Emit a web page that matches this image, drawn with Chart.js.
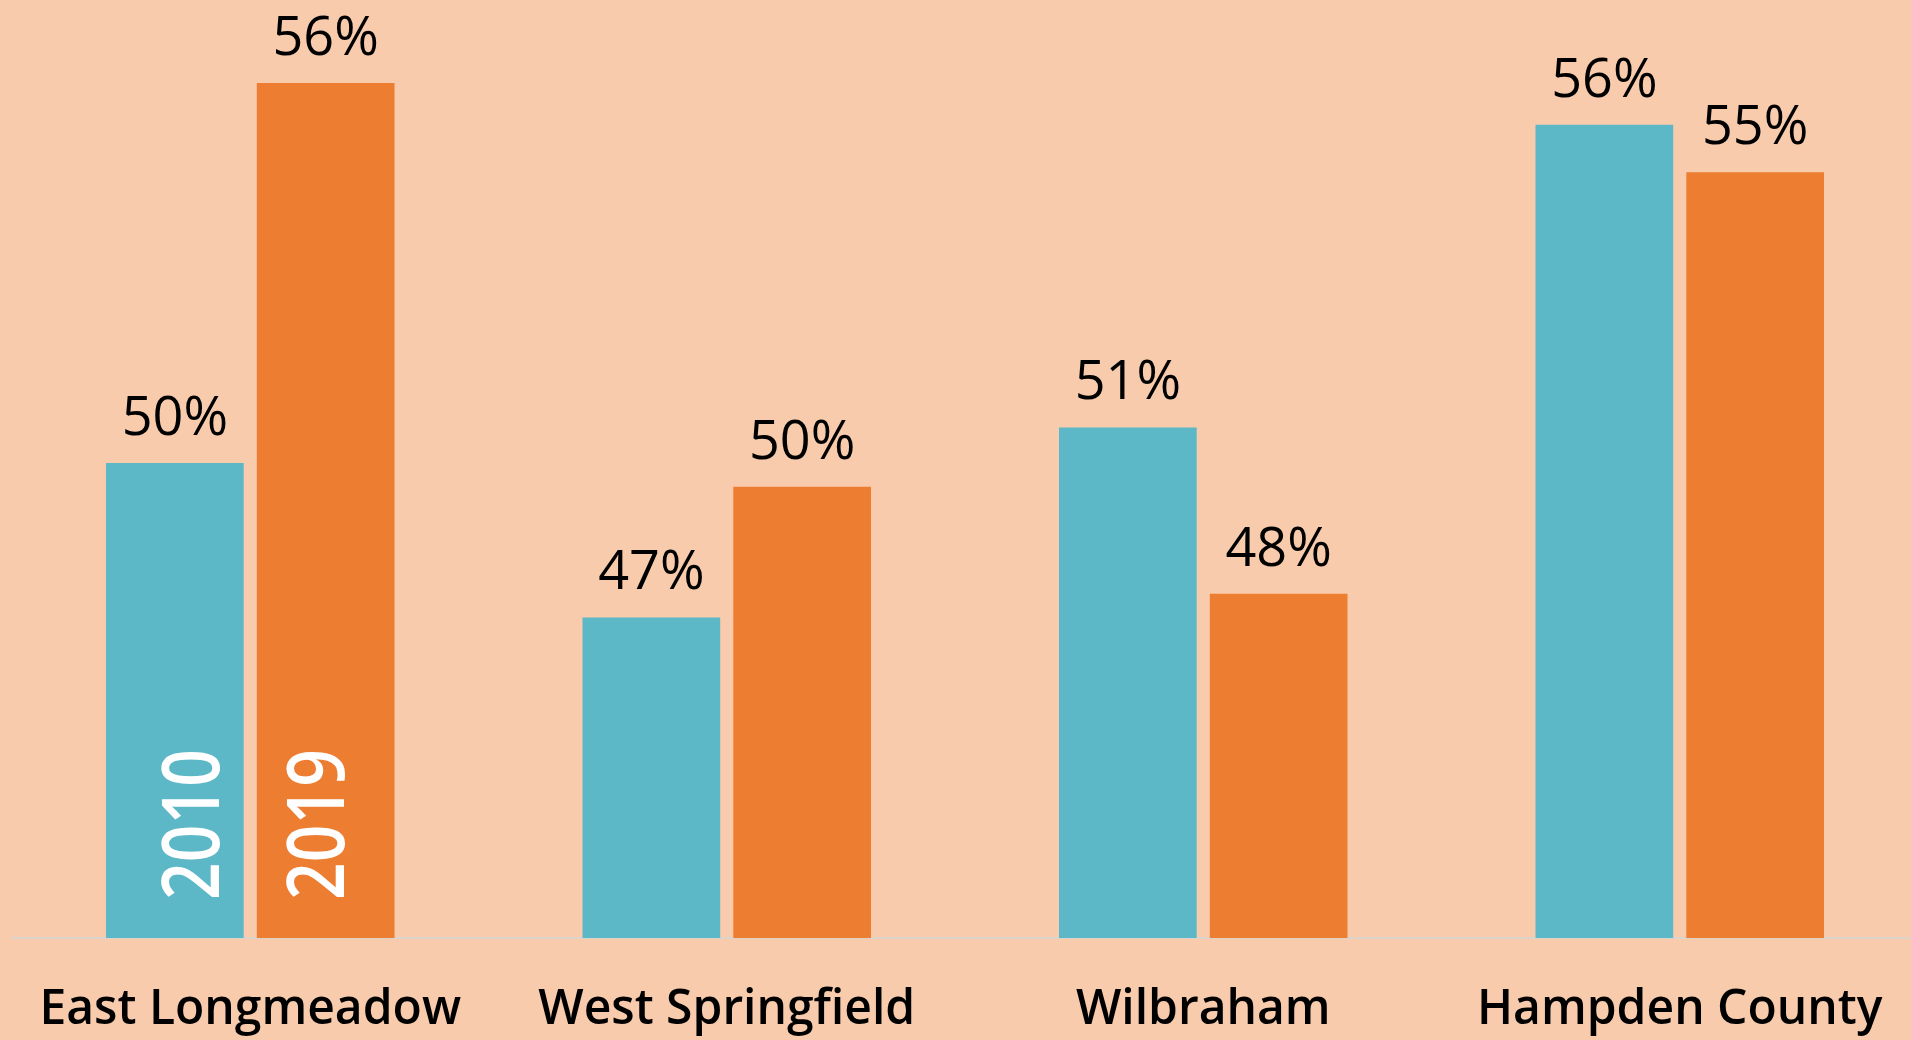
<!DOCTYPE html>
<html>
<head>
<meta charset="utf-8">
<script src="https://cdn.jsdelivr.net/npm/chart.js@4.4.0/dist/chart.umd.min.js"></script>
<style>
    html, body { margin: 0; padding: 0; background: #F8CBAD; overflow: hidden; }
    #wrap { width: 1911px; height: 1040px; overflow: hidden; }
</style>
</head>
<body>
<div id="wrap"><canvas id="chart" width="1918" height="1040"></canvas></div>
<script>
// values (labels show them rounded)
const categories = ['East Longmeadow', 'West Springfield', 'Wilbraham', 'Hampden County'];
const seriesNames = ['2010', '2019'];
const values2010 = [50.0, 47.4, 50.6, 55.7];
const values2019 = [56.4, 49.6, 47.8, 54.9];

const colors = ['#5CB7C6', '#ED7D31'];

// percent labels on top of every bar
const valueLabels = {
    id: 'valueLabels',
    afterDatasetsDraw(chart) {
        const ctx = chart.ctx;
        ctx.save();
        ctx.font = '500 54px "Open Sans"';
        ctx.fillStyle = '#000000';
        ctx.textAlign = 'center';
        ctx.textBaseline = 'alphabetic';
        chart.data.datasets.forEach((ds, i) => {
            chart.getDatasetMeta(i).data.forEach((bar, j) => {
                ctx.fillText(Math.round(ds.data[j]) + '%', bar.x, bar.y - 28);
            });
        });
        ctx.restore();
    }
};

// the year names written up the first pair of bars
const yearTags = {
    id: 'yearTags',
    afterDraw(chart) {
        const ctx = chart.ctx;
        const shift = [22, -4];
        const bottom = chart.chartArea.bottom;
        chart.data.datasets.forEach((ds, i) => {
            const bar = chart.getDatasetMeta(i).data[0];
            ctx.save();
            ctx.translate(bar.x + shift[i], bottom - 38);
            ctx.rotate(-Math.PI / 2);
            ctx.scale(1, 1.2);
            ctx.font = '600 66px "Open Sans"';
            ctx.fillStyle = '#FFFFFF';
            ctx.textAlign = 'left';
            ctx.textBaseline = 'middle';
            ctx.fillText(seriesNames[i], 0, 0);
            ctx.restore();
        });
    }
};

function draw() {
    Chart.defaults.font.family = '"Open Sans", sans-serif';
    const ctx = document.getElementById('chart').getContext('2d');
    new Chart(ctx, {
        type: 'bar',
        data: {
            labels: categories,
            datasets: [
                { label: seriesNames[0], data: values2010, backgroundColor: colors[0] },
                { label: seriesNames[1], data: values2019, backgroundColor: colors[1] }
            ]
        },
        options: {
            responsive: false,
            animation: false,
            categoryPercentage: 0.633,
            barPercentage: 0.913,
            layout: { padding: { left: 12, right: 0, top: 0, bottom: 0 } },
            plugins: {
                legend: { display: false },
                tooltip: { enabled: false }
            },
            scales: {
                x: {
                    grid: { display: false, drawTicks: false },
                    border: { display: true, color: '#DCD3CB', width: 2 },
                    ticks: {
                        color: '#000000',
                        padding: 44,
                        maxRotation: 0,
                        autoSkip: false,
                        font: { size: 48, weight: '600' }
                    },
                    afterFit(scale) {
                        scale.height = 102;
                        scale.paddingLeft = 0;
                        scale.paddingRight = 0;
                    }
                },
                y: {
                    display: false,
                    min: 42,
                    max: 57.8
                }
            }
        },
        plugins: [valueLabels, yearTags]
    });
}

if (document.fonts && document.fonts.load) {
    Promise.all([
        document.fonts.load('500 54px "Open Sans"'),
        document.fonts.load('600 48px "Open Sans"')
    ]).then(draw, draw);
} else {
    draw();
}
</script>
</body>
</html>
